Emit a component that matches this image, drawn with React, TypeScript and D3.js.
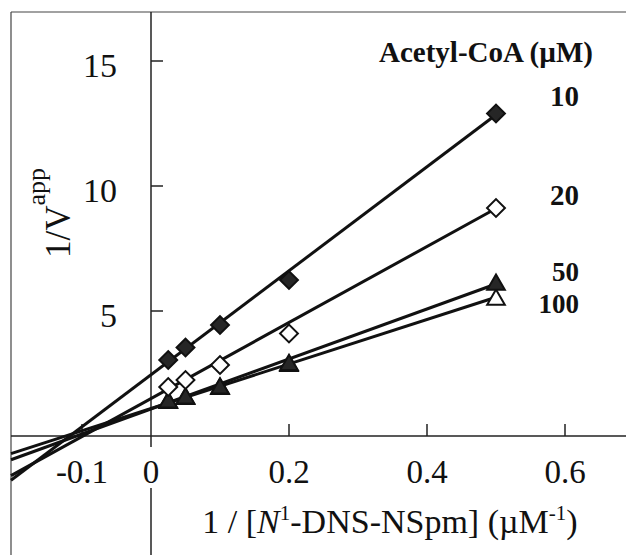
import React from "react";
import * as d3 from "d3";

// ---- data ----
const xValues = [0.025, 0.05, 0.1, 0.2, 0.5];
const series10 = [3.04, 3.54, 4.44, 6.24, 12.9];
const series20 = [1.96, 2.24, 2.84, 4.1, 9.12];
const series50 = [1.34, 1.5, 1.9, 2.84, 6.05];
const series100 = [1.32, 1.48, 1.88, 2.8, 5.45];
const seriesNames = ["10", "20", "50", "100"];
const fitSlopes = [20.8, 15.2, 10.0, 8.9];
const fitIntercepts = [2.45, 1.5, 1.08, 1.1];
const xTicks = [-0.1, 0, 0.2, 0.4, 0.6];
const xTickLabels = ["-0.1", "0", "0.2", "0.4", "0.6"];
const yTicks = [5, 10, 15];
const legendTitle = "Acetyl-CoA (\u00B5M)";

const W = 626;
const H = 555;
const FONT = "'Liberation Serif', 'Times New Roman', serif";

export default function App() {
  const x = d3.scaleLinear().domain([0, 0.2]).range([151, 289]);
  const y = d3.scaleLinear().domain([0, 15]).range([436, 61]);
  const frameLeft = 11;
  const frameTop = 12;
  const xStart = x.invert(frameLeft);
  const xEnd = 0.5;

  const allSeries = [series10, series20, series50, series100];
  const markerKind = ["diamondFilled", "diamondOpen", "triFilled", "triOpen"];
  const labelY = [106, 205, 281, 313];
  const labelSize = [29, 29, 27, 27];

  const diamond = d3.symbol().type(d3.symbolSquare).size(160)();
  const tri = d3.symbol().type(d3.symbolTriangle).size(135)();

  const line = d3
    .line<[number, number]>()
    .x((d) => x(d[0]))
    .y((d) => y(d[1]));

  // draw order: 100 (open tri) under 50 (filled tri)
  const order = [3, 2, 1, 0];

  return (
    <svg
      width={W}
      height={H}
      style={{ position: "absolute", left: 0, top: 0, background: "#fff" }}
      fontFamily={FONT}
    >
      <rect x={0} y={0} width={W} height={H} fill="#fff" />
      {/* frame */}
      <line x1={frameLeft} y1={frameTop} x2={W} y2={frameTop} stroke="#444" strokeWidth={1.2} />
      <line x1={frameLeft} y1={frameTop} x2={frameLeft} y2={H} stroke="#444" strokeWidth={1.2} />
      {/* axes */}
      <line x1={x(0)} y1={frameTop} x2={x(0)} y2={H} stroke="#222" strokeWidth={1.5} />
      <line x1={frameLeft} y1={y(0)} x2={W} y2={y(0)} stroke="#222" strokeWidth={1.5} />
      {/* y ticks */}
      {yTicks.map((t) => (
        <g key={"yt" + t}>
          <line x1={x(0)} x2={x(0) + 12} y1={y(t)} y2={y(t)} stroke="#222" strokeWidth={1.5} />
          <text x={117} y={y(t) + 16} fontSize={34} textAnchor="end" fill="#111">
            {t}
          </text>
        </g>
      ))}
      {/* x ticks */}
      {xTicks.map((t, i) => (
        <g key={"xt" + t}>
          {t !== 0 && (
            <line x1={x(t)} x2={x(t)} y1={y(0)} y2={y(0) - 12} stroke="#222" strokeWidth={1.5} />
          )}
          {t === 0 && <rect x={x(t) - 12} y={447} width={24} height={41} fill="#fff" />}
          <text x={x(t)} y={483} fontSize={33} textAnchor="middle" fill="#111">
            {xTickLabels[i]}
          </text>
        </g>
      ))}
      {/* fitted lines */}
      {allSeries.map((_, i) => (
        <path
          key={"fit" + i}
          d={
            line([
              [xStart, fitIntercepts[i] + fitSlopes[i] * xStart],
              [xEnd, fitIntercepts[i] + fitSlopes[i] * xEnd],
            ]) || ""
          }
          stroke="#111"
          strokeWidth={3}
          fill="none"
        />
      ))}
      {/* markers */}
      {order.map((si) =>
        allSeries[si].map((v, j) => {
          const kind = markerKind[si];
          const isDiamond = kind.startsWith("diamond");
          const filled = kind.endsWith("Filled");
          const cx = x(xValues[j]);
          const cy = y(v);
          return (
            <path
              key={"m" + si + "-" + j}
              d={isDiamond ? diamond : tri}
              transform={`translate(${cx},${cy})${isDiamond ? " rotate(45)" : ""}`}
              fill={filled ? "#262626" : "#fff"}
              stroke="#111"
              strokeWidth={2}
            />
          );
        })
      )}
      {/* legend */}
      <text x={593} y={62} fontSize={29} fontWeight="bold" textAnchor="end" fill="#111">
        {legendTitle}
      </text>
      {seriesNames.map((n, i) => (
        <text
          key={"lab" + n}
          x={579}
          y={labelY[i]}
          fontSize={labelSize[i]}
          fontWeight="bold"
          textAnchor="end"
          fill="#111"
        >
          {n}
        </text>
      ))}
      {/* y axis label */}
      <text transform="translate(70,213) rotate(-90)" fontSize={35} textAnchor="middle" fill="#111">
        1/V
        <tspan fontSize={26} dy={-25}>
          app
        </tspan>
      </text>
      {/* x axis label */}
      <text x={390} y={533} fontSize={34} textAnchor="middle" fill="#111">
        1 / [<tspan fontStyle="italic">N</tspan>
        <tspan fontSize={21} dy={-13}>1</tspan>
        <tspan dy={13}>-DNS-NSpm] (</tspan>
        {"\u00B5M"}
        <tspan fontSize={21} dy={-13}>-1</tspan>
        <tspan dy={13}>)</tspan>
      </text>
    </svg>
  );
}
